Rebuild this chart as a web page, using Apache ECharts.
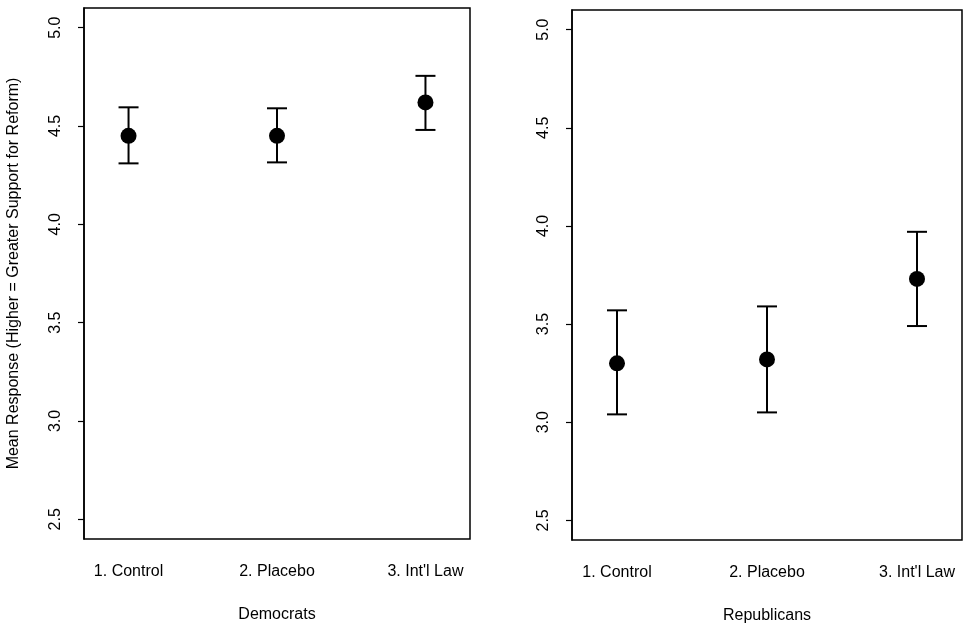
<!DOCTYPE html>
<html lang="en">
<head>
    <meta charset="UTF-8">
    <title>Mean Response by Condition</title>
    <script src="https://cdn.jsdelivr.net/npm/echarts@6/dist/echarts.min.js"></script>
    <style>
        html, body { margin: 0; padding: 0; background: #fff; }
        #main { width: 964px; height: 624px; }
    </style>
</head>
<body>
<div id="main"></div>
<script type="text/javascript">
    // conditions on the x axis, positions 1..3
    var conditions = ['1. Control', '2. Placebo', "3. Int'l Law"];
    var yTicks = [2.5, 3.0, 3.5, 4.0, 4.5, 5.0];

    // Democrats: mean and interval ends
    var demMean = [4.45, 4.45, 4.62];
    var demLow = [4.31, 4.315, 4.48];
    var demHigh = [4.595, 4.59, 4.755];

    // Republicans
    var repMean = [3.30, 3.32, 3.73];
    var repLow = [3.04, 3.05, 3.49];
    var repHigh = [3.57, 3.59, 3.97];

    var font = "'Liberation Sans', Arial, sans-serif";

    function points(mean) {
        return mean.map(function (v, i) { return [i + 1, v]; });
    }
    function bars(low, high) {
        return low.map(function (v, i) { return [i + 1, v, high[i]]; });
    }

    function renderBar(params, api) {
        var x = api.value(0);
        var lo = api.coord([x, api.value(1)]);
        var hi = api.coord([x, api.value(2)]);
        var w = 10;
        var style = { stroke: '#000', lineWidth: 2 };
        return {
            type: 'group',
            children: [
                { type: 'line', shape: { x1: lo[0], y1: lo[1], x2: hi[0], y2: hi[1] }, style: style },
                { type: 'line', shape: { x1: lo[0] - w, y1: lo[1], x2: lo[0] + w, y2: lo[1] }, style: style },
                { type: 'line', shape: { x1: hi[0] - w, y1: hi[1], x2: hi[0] + w, y2: hi[1] }, style: style }
            ]
        };
    }

    function xAxisFor(idx, title) {
        return {
            type: 'value',
            gridIndex: idx,
            min: 0.7,
            max: 3.3,
            name: title,
            nameLocation: 'middle',
            nameGap: 68,
            nameTextStyle: { fontFamily: font, fontSize: 16, color: '#000' },
            axisLine: { show: false },
            axisTick: { show: false },
            splitLine: { show: false },
            axisLabel: {
                customValues: [1, 2, 3],
                formatter: function (v) { return conditions[Math.round(v) - 1]; },
                margin: 25,
                fontFamily: font,
                fontSize: 16,
                color: '#000'
            }
        };
    }

    function yAxisFor(idx, title) {
        return {
            type: 'value',
            gridIndex: idx,
            min: 2.4,
            max: 5.1,
            name: title,
            nameLocation: 'middle',
            nameRotate: 90,
            nameGap: 62,
            nameTextStyle: { fontFamily: font, fontSize: 16, color: '#000' },
            axisLine: { show: true, lineStyle: { color: '#000', width: 1.5 } },
            axisTick: { show: true, customValues: yTicks, length: 6, lineStyle: { color: '#000', width: 1.2 } },
            splitLine: { show: false },
            axisLabel: {
                customValues: yTicks,
                rotate: 90,
                margin: 20,
                formatter: function (v) { return v.toFixed(1); },
                fontFamily: font,
                fontSize: 16,
                color: '#000'
            }
        };
    }

    var chart = echarts.init(document.getElementById('main'));
    var option = {
        backgroundColor: '#fff',
        animation: false,
        grid: [
            { left: 84, top: 8, width: 386, height: 531, show: true, borderColor: '#000', borderWidth: 1.5,
                outerBoundsMode: 'none', containLabel: false },
            { left: 572, top: 10, width: 390, height: 530, show: true, borderColor: '#000', borderWidth: 1.5,
                outerBoundsMode: 'none', containLabel: false }
        ],
        xAxis: [xAxisFor(0, 'Democrats'), xAxisFor(1, 'Republicans')],
        yAxis: [yAxisFor(0, 'Mean Response (Higher = Greater Support for Reform)'), yAxisFor(1, '')],
        series: [
            { type: 'custom', xAxisIndex: 0, yAxisIndex: 0, renderItem: renderBar, data: bars(demLow, demHigh), z: 2 },
            { type: 'scatter', xAxisIndex: 0, yAxisIndex: 0, data: points(demMean), symbolSize: 16,
                itemStyle: { color: '#000', opacity: 1 }, z: 3 },
            { type: 'custom', xAxisIndex: 1, yAxisIndex: 1, renderItem: renderBar, data: bars(repLow, repHigh), z: 2 },
            { type: 'scatter', xAxisIndex: 1, yAxisIndex: 1, data: points(repMean), symbolSize: 16,
                itemStyle: { color: '#000', opacity: 1 }, z: 3 }
        ]
    };
    option && chart.setOption(option);
</script>
</body>
</html>
